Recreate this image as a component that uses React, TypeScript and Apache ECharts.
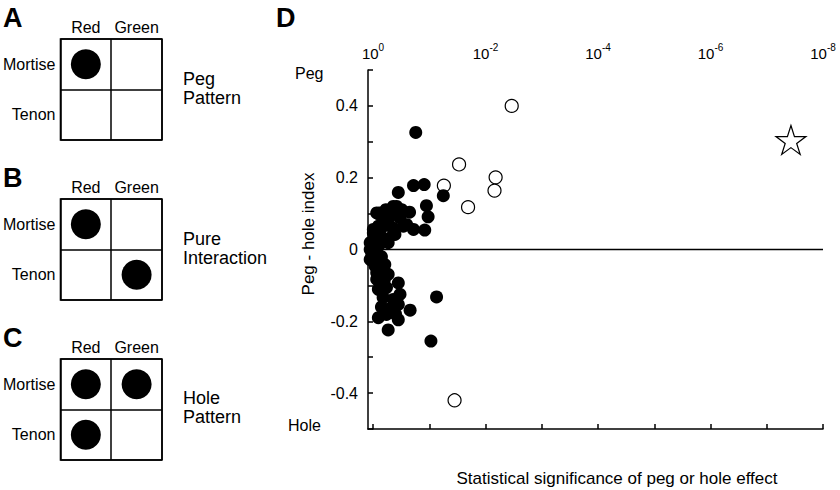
import React, { useEffect, useRef } from 'react';
import * as echarts from 'echarts';

// ---- Schematic panels (A, B, C) ----
const colorCats = ['Red', 'Green'];
const partCats = ['Mortise', 'Tenon'];
const pegPattern = [['Red', 'Mortise']];
const pureInteraction = [['Red', 'Mortise'], ['Green', 'Tenon']];
const holePattern = [['Red', 'Mortise'], ['Green', 'Mortise'], ['Red', 'Tenon']];
const panelPatterns = [pegPattern, pureInteraction, holePattern];
const panelTitles = ['Peg\nPattern', 'Pure\nInteraction', 'Hole\nPattern'];
const panelLetters = ['A', 'B', 'C'];

// ---- Panel D: x = exponent k of significance 10^-k, y = peg-hole index ----
const sigMin = 0;
const sigMax = 8;
const sigTickStep = 1;
const sigLabelStep = 2;
const indexMin = -0.5;
const indexMax = 0.5;
const indexTickStep = 0.1;
const indexLabelStep = 0.2;

const filledSig = [
  0.76, 0.45, 0.72, 0.91, 1.25, 0.95, 0.98, 0.92, 0.72, 0.60,
  0.65, 0.51, 0.42, 0.23, 0.095, 0.30, 0.21, 0.095, 0.006, 0.36,
  0.18, 0.036, 0.27, -0.05, 0.48, 0.54, 0.12, 0.36, 0.27, 0.006,
  0.39, 0.066, 0.24, 0.006, -0.02, 0.21, 0.036, 0.066, 0.27, 0.45,
  0.066, 0.095, 0.24, 0.48, 0.18, 0.36, 0.45, 0.66, 0.33, 0.095,
  0.24, 0.45, 0.27, 1.13, 1.03, -0.05, -0.05, 0.12, 0.15, 0.10,
  0.05, 0.15, 0.10, 0.20, 0.15, 0.30, 0.40, 0.35, 0.45,
];
const filledIndex = [
  0.326, 0.159, 0.178, 0.181, 0.150, 0.122, 0.091, 0.054, 0.056, 0.069,
  0.104, 0.111, 0.120, 0.111, 0.100, 0.093, 0.074, 0.065, 0.046, 0.042,
  0.032, 0.023, 0.019, 0.019, 0.088, 0.065, 0.102, 0.120, 0.083, 0.056,
  0.042, 0.102, 0.023, 0.009, -0.014, -0.042, -0.046, -0.065, -0.069, -0.093,
  -0.083, -0.111, -0.106, -0.125, -0.134, -0.139, -0.153, -0.169, -0.171, -0.190,
  -0.181, -0.196, -0.224, -0.132, -0.255, -0.028, 0.000, -0.092, 0.060, 0.010,
  -0.005, -0.020, -0.055, -0.085, -0.160, -0.165, -0.180, 0.060, 0.100,
];
const openSig = [2.466, 1.53, 1.26, 2.18, 2.16, 1.69, 1.45];
const openIndex = [0.400, 0.237, 0.178, 0.201, 0.164, 0.118, -0.420];
const starSig = [7.43];
const starIndex = [0.305];

const FONT = '"Liberation Sans", Arial, Helvetica, sans-serif';
const STAR_PATH =
  'path://M50,2 L61.2,36.6 L97.6,36.6 L68.2,58 L79.4,92.6 L50,71.2 L20.6,92.6 L31.8,58 L2.4,36.6 L38.8,36.6 Z';

const zip = (a: number[], b: number[]) => a.map((v, i) => [v, b[i]]);
const isMultiple = (v: number, step: number) => {
  const r = v / step;
  return Math.abs(r - Math.round(r)) < 1e-6;
};

export default function App() {
  const ref = useRef<HTMLDivElement>(null);
  useEffect(() => {
    document.body.style.margin = '0';
    if (!ref.current) return;
    const chart = echarts.init(ref.current, null, { renderer: 'svg' });

    const panelTops = [39, 199, 359];
    const grids: any[] = panelTops.map((t) => ({
      left: 60, top: t, width: 102, height: 101,
      show: true, borderColor: '#000', borderWidth: 1.5, backgroundColor: 'transparent',
    }));
    grids.push({ left: 373, right: 17, top: 70, bottom: 61 });

    const xAxes: any[] = panelTops.map((_, i) => ({
      type: 'category', gridIndex: i, data: colorCats, position: 'top',
      axisLine: { show: false }, axisTick: { show: false },
      axisLabel: { interval: 0, fontSize: 16, color: '#000', fontFamily: FONT, margin: 4 },
      splitLine: { show: true, interval: 0, lineStyle: { color: '#000', width: 1.5 } },
    }));
    // x axis 3: line + ticks
    xAxes.push({
      type: 'value', gridIndex: 3, min: sigMin, max: sigMax, interval: sigTickStep,
      axisLine: { show: true, onZero: false, lineStyle: { color: '#000', width: 1.5 } },
      axisTick: { show: true, inside: true, length: 5, lineStyle: { color: '#000', width: 1.5 } },
      axisLabel: { show: false },
      splitLine: { show: false },
    });
    // x axis 4: labels only
    xAxes.push({
      type: 'value', gridIndex: 3, min: sigMin, max: sigMax, interval: sigLabelStep,
      axisLine: { show: false, onZero: false }, axisTick: { show: false }, splitLine: { show: false },
      axisLabel: {
        show: true, margin: 9, color: '#000', fontSize: 15, fontFamily: FONT,
        formatter: (v: number) => `{b|10}{s|${Math.round(v) === 0 ? '0' : '-' + Math.round(v)}}`,
        rich: {
          b: { fontSize: 15, fontFamily: FONT, color: '#000', verticalAlign: 'bottom' },
          s: { fontSize: 10, fontFamily: FONT, color: '#000', verticalAlign: 'bottom', padding: [0, 0, 9, 0] },
        },
      },
    });

    const yAxes: any[] = panelTops.map((_, i) => ({
      type: 'category', gridIndex: i, data: partCats, inverse: true,
      axisLine: { show: false }, axisTick: { show: false },
      axisLabel: { interval: 0, fontSize: 16, color: '#000', fontFamily: FONT, margin: 5 },
      splitLine: { show: true, interval: 0, lineStyle: { color: '#000', width: 1.5 } },
    }));
    // y axis 3: line + ticks
    yAxes.push({
      type: 'value', gridIndex: 3, min: indexMin, max: indexMax, interval: indexTickStep, offset: 5,
      axisLine: { show: true, onZero: false, lineStyle: { color: '#000', width: 1.5 } },
      axisTick: { show: true, inside: true, length: 5, lineStyle: { color: '#000', width: 1.5 } },
      axisLabel: { show: false },
      splitLine: { show: false },
    });
    // y axis 4: labels only
    yAxes.push({
      type: 'value', gridIndex: 3, min: indexMin, max: indexMax, interval: indexTickStep,
      position: 'left', offset: 5,
      axisLine: { show: false, onZero: false }, axisTick: { show: false }, splitLine: { show: false },
      axisLabel: {
        show: true, margin: 10, fontSize: 16, fontFamily: FONT, color: '#000',
        formatter: (v: number) => {
          if (!isMultiple(v, indexLabelStep)) return '';
          if (Math.abs(v) < 1e-9) return '0';
          return v.toFixed(1);
        },
      },
    });

    const series: any[] = panelPatterns.map((p, i) => ({
      type: 'scatter', xAxisIndex: i, yAxisIndex: i, data: p,
      symbol: 'circle', symbolSize: 30, itemStyle: { color: '#000', opacity: 1 }, silent: true,
    }));
    series.push({
      type: 'scatter', xAxisIndex: 3, yAxisIndex: 3, data: zip(openSig, openIndex), clip: false,
      symbol: 'circle', symbolSize: 13,
      itemStyle: { color: '#fff', borderColor: '#000', borderWidth: 1.2, opacity: 1 },
    });
    series.push({
      type: 'scatter', xAxisIndex: 3, yAxisIndex: 3, data: zip(filledSig, filledIndex), clip: false,
      symbol: 'circle', symbolSize: 13, itemStyle: { color: '#000', opacity: 1 },
      markLine: {
        silent: true, symbol: ['none', 'none'], label: { show: false },
        lineStyle: { color: '#000', width: 1.3, type: 'solid' },
        data: [{ yAxis: 0 }],
      },
    });
    series.push({
      type: 'scatter', xAxisIndex: 3, yAxisIndex: 3, data: zip(starSig, starIndex),
      symbol: STAR_PATH, symbolSize: [30, 29],
      itemStyle: { color: '#fff', borderColor: '#000', borderWidth: 1.2, opacity: 1 },
    });

    const letterY = [18, 178, 338];
    const titleY = [88, 248, 407];
    const graphic: any[] = [];
    panelLetters.forEach((l, i) => {
      graphic.push({
        type: 'text', x: 3, y: letterY[i],
        style: { text: l, fontSize: 27, fontWeight: 'bold', fontFamily: FONT, fill: '#000', verticalAlign: 'middle' },
      });
      graphic.push({
        type: 'text', x: 183, y: titleY[i],
        style: { text: panelTitles[i], fontSize: 18, lineHeight: 19, fontFamily: FONT, fill: '#000', verticalAlign: 'middle' },
      });
    });
    graphic.push({
      type: 'text', x: 276, y: 18,
      style: { text: 'D', fontSize: 27, fontWeight: 'bold', fontFamily: FONT, fill: '#000', verticalAlign: 'middle' },
    });
    graphic.push({
      type: 'text', x: 295, y: 73,
      style: { text: 'Peg', fontSize: 16, fontFamily: FONT, fill: '#000', verticalAlign: 'middle' },
    });
    graphic.push({
      type: 'text', x: 288, y: 425,
      style: { text: 'Hole', fontSize: 16, fontFamily: FONT, fill: '#000', verticalAlign: 'middle' },
    });
    graphic.push({
      type: 'text', x: 308, y: 234, rotation: Math.PI / 2,
      style: { text: 'Peg - hole index', fontSize: 17, fontFamily: FONT, fill: '#000', align: 'center', verticalAlign: 'middle' },
    });
    graphic.push({
      type: 'text', x: 617, y: 478,
      style: { text: 'Statistical significance of peg or hole effect', fontSize: 17, fontFamily: FONT, fill: '#000', align: 'center', verticalAlign: 'middle' },
    });
    // short extension of the x axis line to meet the offset y axis
    graphic.push({
      type: 'line', shape: { x1: 367.4, y1: 429, x2: 373.5, y2: 429 },
      style: { stroke: '#000', lineWidth: 1.5 },
    });

    chart.setOption({
      animation: false,
      backgroundColor: '#fff',
      grid: grids,
      xAxis: xAxes,
      yAxis: yAxes,
      series,
      graphic,
    });
    return () => chart.dispose();
  }, []);
  return <div ref={ref} style={{ width: 840, height: 490 }} />;
}
